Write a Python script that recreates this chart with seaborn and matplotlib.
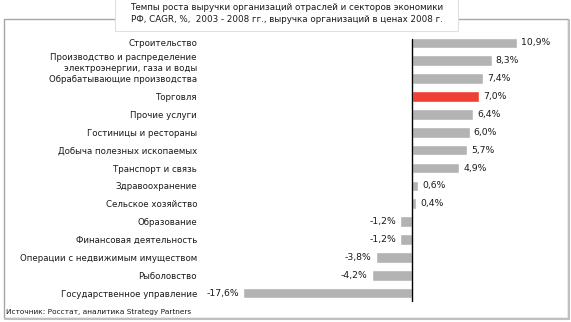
import matplotlib
matplotlib.use("Agg")
import matplotlib.pyplot as plt
import matplotlib.patches as mpatches
import seaborn as sns
import pandas as pd

categories = [
    "Строительство",
    "Производство и распределение\nэлектроэнергии, газа и воды",
    "Обрабатывающие производства",
    "Торговля",
    "Прочие услуги",
    "Гостиницы и рестораны",
    "Добыча полезных ископаемых",
    "Транспорт и связь",
    "Здравоохранение",
    "Сельское хозяйство",
    "Образование",
    "Финансовая деятельность",
    "Операции с недвижимым имуществом",
    "Рыболовство",
    "Государственное управление",
]
values = [10.9, 8.3, 7.4, 7.0, 6.4, 6.0, 5.7, 4.9, 0.6, 0.4, -1.2, -1.2, -3.8, -4.2, -17.6]
highlight = "Торговля"
title_lines = [
    "Темпы роста выручки организаций отраслей и секторов экономики",
    "РФ, CAGR, %,  2003 - 2008 гг., выручка организаций в ценах 2008 г.",
]
source = "Источник: Росстат, аналитика Strategy Partners"

GRAY = "#b3b3b3"
RED = "#ee4035"
TXT = "#1a1a1a"

df = pd.DataFrame({"cat": categories, "val": values})
palette = {c: (RED if c == highlight else GRAY) for c in categories}

sns.set_theme(style="white")
plt.rcParams["font.family"] = ["DejaVu Sans"]

W, H = 571, 322
fig = plt.figure(figsize=(W / 100, H / 100), dpi=100)

def fx(px):
    return px / W

def fy(py):
    return 1 - py / H

# outer frame
frame = mpatches.Rectangle((fx(4), fy(318)), fx(564), 299 / H, transform=fig.transFigure,
                           fill=False, edgecolor="#a6a6a6", lw=1.0, zorder=0)
fig.patches.append(frame)
# shadow on right / bottom
fig.lines.append(plt.Line2D([fx(569), fx(569)], [fy(20), fy(319)], transform=fig.transFigure,
                            color="#c0c0c0", lw=1.5))
fig.lines.append(plt.Line2D([fx(5), fx(569)], [fy(319), fy(319)], transform=fig.transFigure,
                            color="#c0c0c0", lw=1.5))

# title box
tbox = mpatches.Rectangle((fx(115), fy(31)), fx(343), 32 / H, transform=fig.transFigure,
                          facecolor="white", edgecolor="#e0e0e0", lw=0.8, zorder=2)
fig.patches.append(tbox)
fig.text(fx(287), fy(8), title_lines[0], ha="center", va="center", fontsize=6.3, color=TXT, zorder=3)
fig.text(fx(287), fy(20), title_lines[1], ha="center", va="center", fontsize=6.3, color=TXT, zorder=3)

# axes
x_left, x_right, x_zero, scale = 230, 540, 412, 9.6
ax = fig.add_axes([fx(x_left), fy(302), fx(x_right - x_left), (302 - 34) / H])
sns.barplot(data=df, y="cat", x="val", hue="cat", order=categories, hue_order=categories,
            palette=palette, dodge=False, legend=False, width=0.6, saturation=1,
            orient="h", ax=ax)
ax.set_xlim(-(x_zero - x_left) / scale, (x_right - x_zero) / scale)
ax.set_ylim(len(categories) - 0.5, -0.5)
ax.axvline(0, color="black", lw=1.0, ymin=0.0, ymax=0.98)

for cont in ax.containers:
    ax.bar_label(cont, fmt=lambda v: f"{v:.1f}%".replace(".", ","), padding=3,
                 fontsize=6.7, color=TXT)

for s in ax.spines.values():
    s.set_visible(False)
ax.set_xticks([])
ax.set_xlabel("")
ax.set_ylabel("")
ax.tick_params(axis="y", length=0, pad=(x_left - 197) * 0.72, labelsize=6.2, labelcolor=TXT)
for lab in ax.get_yticklabels():
    lab.set_linespacing(1.35)
ax.patch.set_alpha(0)

fig.text(fx(6), fy(312), source, ha="left", va="center", fontsize=5.3, color=TXT)

fig.savefig("out.png", dpi=100)
